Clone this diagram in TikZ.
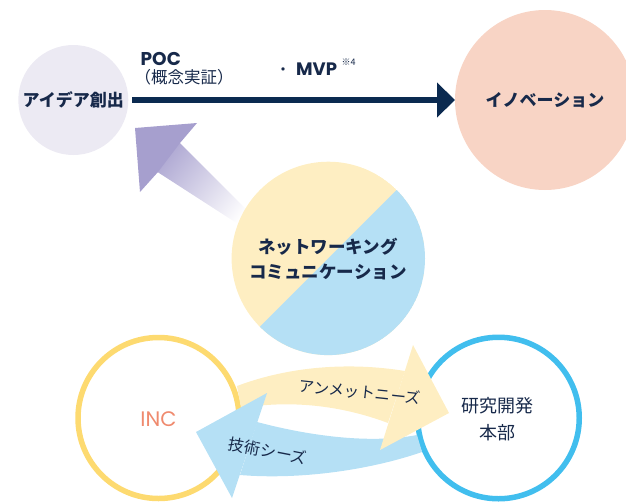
\documentclass[tikz,border=0pt]{standalone}
\usepackage{fontspec}
\setmainfont{Noto Sans CJK JP}
\newfontfamily\lat{Poppins}
\usetikzlibrary{arrows.meta}
\definecolor{txt}{HTML}{17294A}
\definecolor{navy}{HTML}{0B2A50}
\definecolor{lav}{HTML}{ECEAF3}
\definecolor{peach}{HTML}{F8D4C5}
\definecolor{purp}{HTML}{A69FCE}
\definecolor{nety}{HTML}{FEEEC2}
\definecolor{netb}{HTML}{B5E0F5}
\definecolor{ringy}{HTML}{FDDA70}
\definecolor{ringb}{HTML}{41BEEE}
\definecolor{incc}{HTML}{EF8A6E}
\begin{document}
\begin{tikzpicture}[x=1pt,y=-1pt,
  bubble/.style={circle, inner sep=0pt, outer sep=0pt},
  lbl/.style={text=txt, font=\bfseries\fontsize{17}{21}\selectfont, align=center, inner sep=0pt},
  small/.style={text=txt, inner sep=0pt},
]
\useasboundingbox (0,0) rectangle (626,501);

% top circles
\node[bubble, fill=lav, minimum size=110pt] (idea) at (73.3,100) {};
\node[bubble, fill=peach, minimum size=180pt] (inno) at (545,100) {};
\node[lbl] (ideat) at (idea) {アイデア創出};
\node[lbl] (innot) at (inno) {イノベーション};

% navy arrow
\draw[navy, line width=6.5pt, -{Triangle[length=18pt,width=34pt]}, shorten <=4pt] (idea.east) -- (inno.west);

\node[small, anchor=base west, font=\lat\bfseries\fontsize{18.5}{20}\selectfont] (poc) at (140.5,65) {POC};
\node[small, font=\fontsize{16.5}{20}\selectfont] (pocj) at (184.2,77) {（概念実証）};
\node[small, anchor=base west, font=\fontsize{16}{20}\selectfont] (dot) at (275,75) {・};
\node[small, anchor=base west, font=\lat\bfseries\fontsize{18}{20}\selectfont] (mvp) at (296,75) {MVP};
\node[small, anchor=base west, font=\fontsize{9}{10}\selectfont] (mvpn) at (341.5,65.5) {※4};

% purple gradient arrow
\shade[top color=purp, bottom color=white, shading angle=51] (167,130) -- (258,221) -- (252,233) -- (142,162) -- cycle;
\fill[purp] (135,128) -- (197,123) -- (180,143) -- (158,172) -- (140,192) -- cycle;

% network circle
\node[bubble, minimum size=193.4pt] (net) at (328.3,258.4) {};
\begin{scope}
  \clip (net.center) circle (96.7pt);
  \fill[nety] (net.center) circle (96.7pt);
  \fill[netb] (net.center) ++(-150,150) -- ++(300,-300) -- ++(0,300) -- cycle;
\end{scope}
\node[lbl, font=\bfseries\fontsize{17.5}{25}\selectfont] (nett) at (328,259.5) {ネットワーキング\\コミュニケーション};

% bottom circles
\node[bubble, draw=ringy, line width=5.5pt, minimum size=161pt] (inc) at (158.5,418) {};
\node[bubble, draw=ringb, line width=5.5pt, minimum size=161.5pt] (rd) at (498.5,418) {};
\node[text=incc, inner sep=0pt, font=\lat\fontsize{21}{24}\selectfont] (inct) at (158.5,419) {INC};
\node[small, align=center, font=\fontsize{18}{27}\selectfont] (rdt) at (497,419.5) {研究開発\\本部};

% big arrows
\fill[nety] (237,386) .. controls (290,366) and (350,362) .. (405,371) -- (388,423) .. controls (340,405) and (290,400) .. (241,408) -- cycle;
\fill[netb] (257,422) .. controls (310,436) and (370,444) .. (417,435) -- (422,452) .. controls (370,470) and (300,480) .. (240,475) -- cycle;
\fill[netb] (196,432) -- (267,393) -- (232,498) -- cycle;
\fill[nety] (449,413) -- (413,345) -- (380,450) -- cycle;
\node[small, rotate=-6, font=\fontsize{15.5}{18}\selectfont] (unmet) at (360,392) {アンメットニーズ};
\node[small, rotate=-11, font=\fontsize{16}{18}\selectfont] (seeds) at (268,451) {技術シーズ};
\end{tikzpicture}
\end{document}
